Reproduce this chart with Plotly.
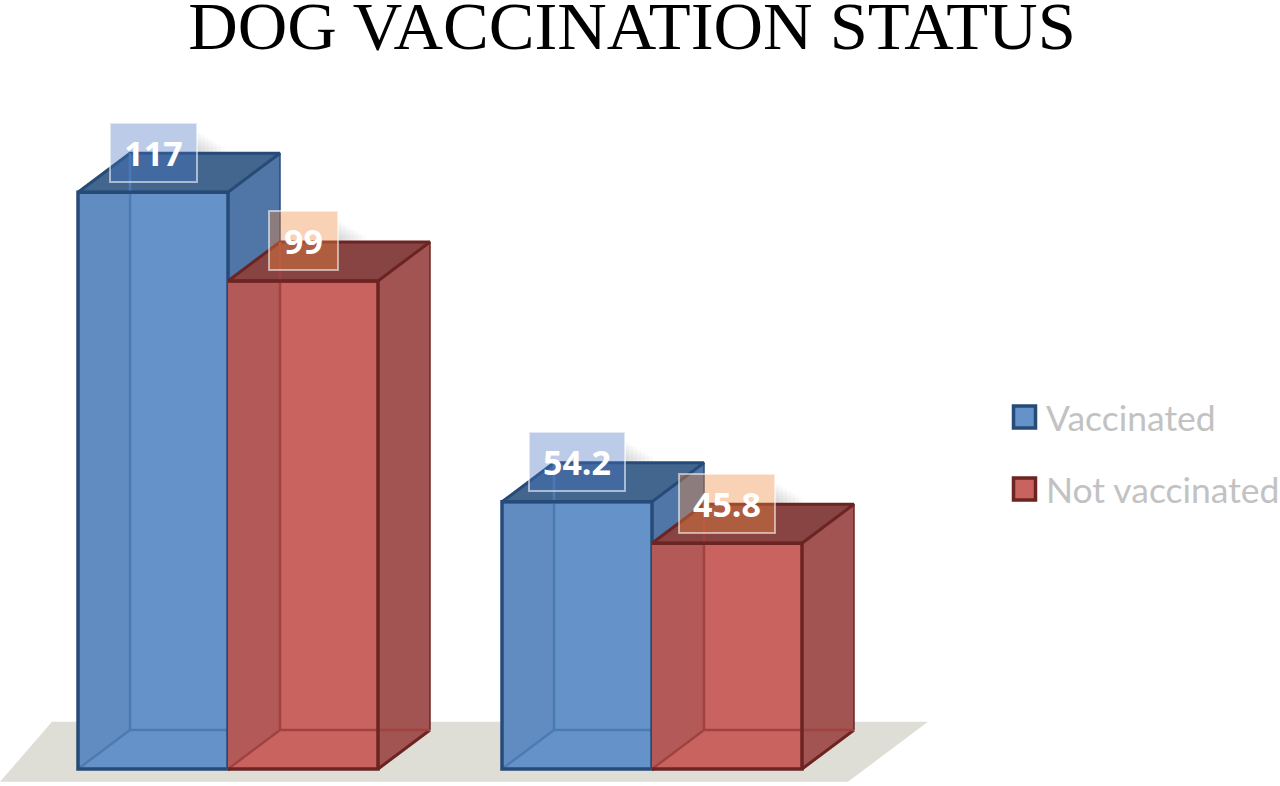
import plotly.graph_objects as go

# ---- data ----
categories = [0, 1]
series_names = ["Vaccinated", "Not vaccinated"]
vaccinated = [117, 54.2]
not_vaccinated = [99, 45.8]
title_text = "DOG VACCINATION STATUS"

# ---- scale of the picture ----
W, H = 1280, 786
PX_PER_CAT = 424.0
PX_PER_VAL = 4.93
X0_PX, BASE_PX = 228.0, 769.0
BAR_W = 150 / PX_PER_CAT
DX = 52 / PX_PER_CAT      # depth of the fake 3-D box, horizontally
DY = 39 / PX_PER_VAL      # depth of the fake 3-D box, vertically
x_range = [-X0_PX / PX_PER_CAT, (W - X0_PX) / PX_PER_CAT]
y_range = [(BASE_PX - H) / PX_PER_VAL, BASE_PX / PX_PER_VAL]

STYLE = {
    "Vaccinated": dict(front="#6592C9", left="#608CC2", side="#4F76A6", top="#43668F",
                       edge="#274B78", inner="#4C7BB2", box="rgba(70,115,190,0.36)"),
    "Not vaccinated": dict(front="#C9635F", left="#B35A58", side="#A25452", top="#874442",
                           edge="#6C2422", inner="#A04240", box="rgba(240,135,60,0.38)"),
}

fig = go.Figure()


def poly(xs, ys, color, axes, line=None, width=0):
    fig.add_trace(go.Scatter(
        x=xs, y=ys, mode="lines", fill="toself" if color else None, fillcolor=color,
        line=dict(color=line or "rgba(0,0,0,0)", width=width),
        hoverinfo="skip", showlegend=False, xaxis=axes[0], yaxis=axes[1]))


# floor
x_lo = categories[0] - BAR_W
x_hi = categories[-1] + BAR_W
floor_front = -2.6
poly([x_lo - 78 / PX_PER_CAT, x_lo - 26 / PX_PER_CAT, x_hi + 126 / PX_PER_CAT, x_hi + 46 / PX_PER_CAT],
     [floor_front, floor_front + 12.2, floor_front + 12.2, floor_front], "#DEDDD6", ("x", "y"))

# boxes, one layer per series so the red front covers the blue side
for idx, (name, vals, start, axes) in enumerate((
        (series_names[0], vaccinated, -BAR_W, ("x2", "y2")),
        (series_names[1], not_vaccinated, 0.0, ("x3", "y3")))):
    s = STYLE[name]
    fig.add_trace(go.Bar(
        x=categories, y=vals, width=BAR_W, offset=start, name=name,
        marker=dict(color=s["front"], line=dict(color=s["front"], width=0)),
        showlegend=False, xaxis=axes[0], yaxis=axes[1]))
    for c, v in zip(categories, vals):
        l, r = c + start, c + start + BAR_W
        poly([l, l + DX, l + DX, l], [0, DY, v + DY, v], s["left"], axes)
        poly([r, r + DX, r + DX, r, r], [0, DY, v + DY, v, 0], s["side"], axes)
        poly([l, l + DX, r + DX, r, l], [v, v + DY, v + DY, v, v], s["top"], axes, s["edge"], 3)
        poly([r + DX, r + DX], [DY, v + DY], None, axes, s["edge"], 1.5)
        poly([r, r + DX], [0, DY], None, axes, s["edge"], 3)
        poly([l + DX, l + DX], [DY, v + DY], None, axes, s["inner"], 2.5)
        poly([l, l + DX, r + DX], [0, DY, DY], None, axes, s["inner"], 2.5)
        if idx == 0:
            poly([r, r, l, l, r], [v, 0, 0, v, v], None, axes, s["edge"], 3.5)
        else:
            poly([l, r, r, l], [0, 0, v, v], None, axes, s["edge"], 3.5)

# value labels
annotations = []
shapes = []
for name, vals, start in ((series_names[0], vaccinated, -BAR_W), (series_names[1], not_vaccinated, 0.0)):
    for c, v in zip(categories, vals):
        wide = len(str(v)) > 3
        box_w = 94 if wide else (85 if v > 100 else 67)
        xc = c + start + BAR_W / 2
        annotations.append(dict(
            x=xc, y=v, xref="x3", yref="y3", yshift=40,
            text=f"<b>{v}</b>", showarrow=False, xanchor="center", yanchor="middle",
            width=box_w, height=57,
            bgcolor=STYLE[name]["box"],
            bordercolor="rgba(255,255,255,0.55)", borderwidth=2, borderpad=0,
            font=dict(family="Open Sans", size=34, color="white")))
        # soft shadow to the right of the label, visible on the white background only
        for grow in range(4, 32, 4):
            shapes.append(dict(
                type="rect", layer="below", xref="x", yref="y", xsizemode="pixel", ysizemode="pixel",
                xanchor=xc, yanchor=v,
                x0=box_w / 2 + 1, x1=box_w / 2 + 1 + grow,
                y0=18 - grow * 0.1, y1=62 - grow * 0.6,
                fillcolor="rgba(90,90,90,0.03)", line=dict(width=0)))

# legend
for name, ypx in zip(series_names, (417, 489)):
    annotations.append(dict(
        x=1044 / W, y=1 - ypx / H, xref="paper", yref="paper", text=name, showarrow=False,
        xanchor="left", yanchor="middle", font=dict(family="Lato", size=35.5, color="#C2C2C2")))
    s = STYLE[name]
    shapes.append(dict(type="rect", xref="paper", yref="paper", x0=1013.5 / W, x1=1035.5 / W,
                       y0=1 - (ypx + 11) / H, y1=1 - (ypx - 11) / H,
                       fillcolor=s["front"], line=dict(color=s["edge"], width=3.5)))

axis = dict(visible=False, fixedrange=True)
fig.update_layout(
    width=W, height=H, margin=dict(l=0, r=0, t=0, b=0), autosize=False,
    paper_bgcolor="white", plot_bgcolor="white", barmode="overlay", showlegend=False,
    title=dict(text=title_text, x=632 / W, xanchor="center", y=1 - 25 / H, yanchor="middle",
               font=dict(family="Liberation Serif", size=68.6, color="black")),
    xaxis=dict(axis, range=x_range), yaxis=dict(axis, range=y_range),
    xaxis2=dict(axis, range=x_range, overlaying="x"), yaxis2=dict(axis, range=y_range, overlaying="y"),
    xaxis3=dict(axis, range=x_range, overlaying="x"), yaxis3=dict(axis, range=y_range, overlaying="y"),
    annotations=annotations, shapes=shapes)

fig.write_html("out.html", post_script="document.body.style.margin='0';",
               config=dict(displayModeBar=False))
